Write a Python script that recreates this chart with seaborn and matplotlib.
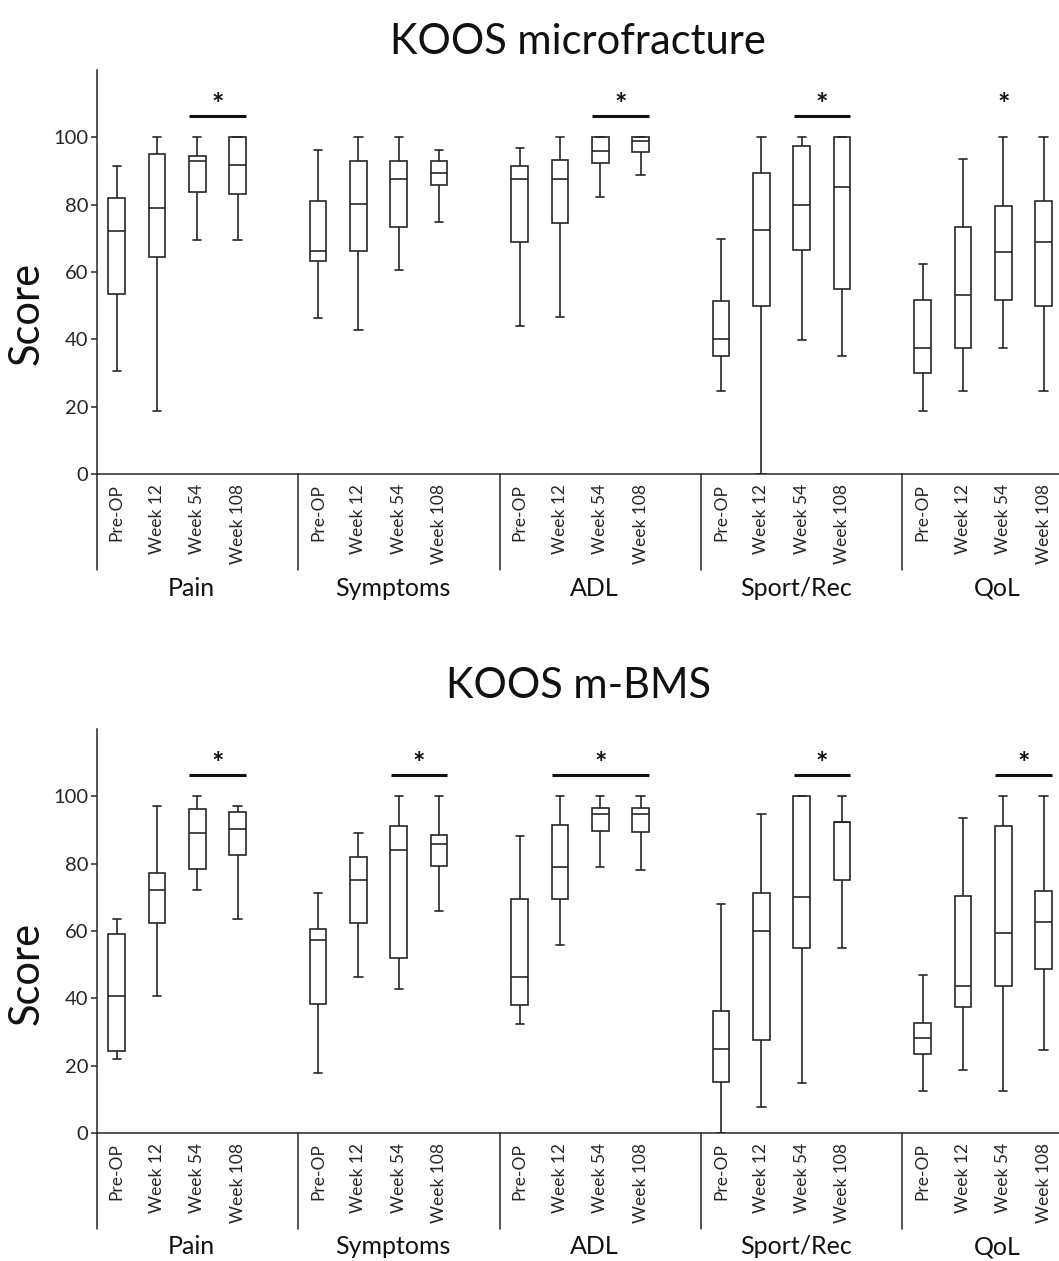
import numpy as np
import pandas as pd
import matplotlib
matplotlib.use('Agg')
import matplotlib.pyplot as plt
import seaborn as sns

# Categories
subscales = ['Pain', 'Symptoms', 'ADL', 'Sport/Rec', 'QoL']
timepoints = ['Pre-OP', 'Week 12', 'Week 54', 'Week 108']

# KOOS microfracture: box summaries (5 subscales x 4 time points)
mf_min = [30.5, 18.8, 69.4, 69.4,  46.2, 42.9, 60.6, 74.8,  44.1, 46.5, 82.2, 88.7,  24.7, 0.0, 39.9, 35.0,  18.7, 24.7, 37.5, 24.7]
mf_q1 = [53.4, 64.6, 83.9, 83.3,  63.4, 66.1, 73.4, 85.7,  68.8, 74.5, 92.4, 95.6,  35.0, 50.0, 66.4, 54.9,  29.9, 37.5, 51.7, 50.0]
mf_med = [72.2, 79.1, 93.1, 91.8,  66.1, 80.3, 87.5, 89.4,  87.5, 87.5, 95.8, 98.9,  40.2, 72.4, 80.0, 85.2,  37.5, 53.1, 65.8, 68.8]
mf_q3 = [81.9, 95.0, 94.5, 100.0,  81.2, 93.0, 93.0, 93.0,  91.4, 93.4, 100.0, 100.0,  51.3, 89.3, 97.5, 100.0,  51.6, 73.4, 79.7, 81.2]
mf_max = [91.5, 100.0, 100.0, 100.0,  96.3, 100.0, 100.0, 96.3,  96.9, 100.0, 100.0, 100.0,  69.7, 100.0, 100.0, 100.0,  62.5, 93.6, 100.0, 100.0]

# KOOS m-BMS
bms_min = [22.1, 40.6, 72.1, 63.7,  17.8, 46.2, 42.9, 65.8,  32.3, 55.8, 79.1, 78.2,  0.0, 7.8, 14.8, 54.9,  12.5, 18.8, 12.5, 24.8]
bms_q1 = [24.4, 62.5, 78.5, 82.7,  38.3, 62.5, 51.9, 79.4,  38.1, 69.4, 89.7, 89.3,  15.1, 27.5, 54.9, 75.2,  23.5, 37.5, 43.8, 48.8]
bms_med = [40.6, 72.1, 89.0, 90.3,  57.2, 75.2, 84.0, 85.8,  46.2, 78.9, 94.8, 94.8,  25.0, 60.1, 70.0, 92.4,  28.2, 43.8, 59.5, 62.6]
bms_q3 = [59.2, 77.1, 96.3, 95.2,  60.6, 82.1, 91.2, 88.4,  69.4, 91.5, 96.5, 96.5,  36.2, 71.2, 100.0, 92.4,  32.8, 70.3, 91.2, 71.8]
bms_max = [63.7, 97.2, 100.0, 97.2,  71.2, 89.0, 100.0, 100.0,  88.1, 100.0, 100.0, 100.0,  68.0, 94.8, 100.0, 100.0,  46.8, 93.6, 100.0, 100.0]

# Significance marks: (subscale index, first time index, last time index, draw bar)
mf_sig = [(0, 2, 3, True), (2, 2, 3, True), (3, 2, 3, True), (4, 2, 2, False)]
bms_sig = [(0, 2, 3, True), (1, 2, 3, True), (2, 1, 3, True), (3, 2, 3, True), (4, 2, 3, True)]

panels = [
    ('KOOS microfracture', [mf_min, mf_q1, mf_med, mf_q3, mf_max], mf_sig),
    ('KOOS m-BMS', [bms_min, bms_q1, bms_med, bms_q3, bms_max], bms_sig),
]

sns.set_style('white')
plt.rcParams['font.family'] = ['Lato', 'DejaVu Sans']
ink = '#262626'

W, H = 1059, 1261
fig = plt.figure(figsize=(W / 100, H / 100), dpi=100)

# pixel layout of each panel: y of zero line, y of axis top
zero_px = [474, 1133]
top_px = [70, 729]
title_px = [42, 686]
score_px = [313, 973]

gap = 5  # slots per subscale group
for k, (title, stats, sig) in enumerate(panels):
    ax_h = (zero_px[k] - top_px[k]) / H
    ax = fig.add_axes([96.5 / W, 1 - zero_px[k] / H, 1 - 96.5 / W, ax_h])

    # expand each five-number summary into points that reproduce it exactly
    rows = []
    for g in range(len(subscales)):
        for t in range(len(timepoints)):
            idx = g * len(timepoints) + t
            for s in stats:
                rows.append({'pos': g * gap + t, 'score': s[idx]})
    df = pd.DataFrame(rows)

    sns.boxplot(data=df, x='pos', y='score', native_scale=True, width=0.41,
                whis=(0, 100), color='white', linecolor=ink, linewidth=1.2,
                fliersize=0, ax=ax)

    positions = [g * gap + t for g in range(len(subscales)) for t in range(len(timepoints))]
    ax.set_xticks(positions)
    ax.set_xticklabels(timepoints * len(subscales), rotation=90, fontsize=12.5)
    ax.tick_params(axis='x', length=0, pad=7)
    ax.set_yticks(range(0, 101, 20))
    ax.tick_params(axis='y', length=4, width=1.1, color=ink, labelsize=14.5, pad=2, left=True)
    ax.set_xlim(-0.5, -0.5 + (W - 96.5) / 40.3)
    ax.set_ylim(0, 120)
    ax.set_xlabel('')
    ax.set_ylabel('')
    for side in ['top', 'right']:
        ax.spines[side].set_visible(False)
    for side in ['left', 'bottom']:
        ax.spines[side].set_color(ink)
        ax.spines[side].set_linewidth(1.1)

    # group separators and group labels below the axis
    trans = ax.get_xaxis_transform()
    sep_y = -96 / (ax_h * H)
    lab_y = -114 / (ax_h * H)
    for g, name in enumerate(subscales):
        ax.plot([g * gap - 0.5] * 2, [0, sep_y], transform=trans, color=ink,
                lw=1.1, clip_on=False)
        ax.text(g * gap + 1.85, lab_y, name, transform=trans, ha='center',
                va='center', fontsize=18, color='#111111')

    # significance bars and asterisks
    for g, t0, t1, bar in sig:
        x0 = g * gap + t0
        x1 = g * gap + t1
        if bar:
            ax.plot([x0 - 0.2, x1 + 0.2], [106.3, 106.3], color='#111111', lw=2.2,
                    solid_capstyle='butt', clip_on=False)
        ax.text((x0 + x1) / 2, 107.3, '*', ha='center', va='baseline', fontsize=21,
                fontweight='bold', color='#111111')

    fig.text(578 / W, 1 - title_px[k] / H, title, ha='center', va='center',
             fontsize=30, color='#111111')
    fig.text(27 / W, 1 - score_px[k] / H, 'Score', rotation=90, ha='center',
             va='center', fontsize=30, color='#111111')

fig.savefig('out.png', dpi=100, facecolor='white')
